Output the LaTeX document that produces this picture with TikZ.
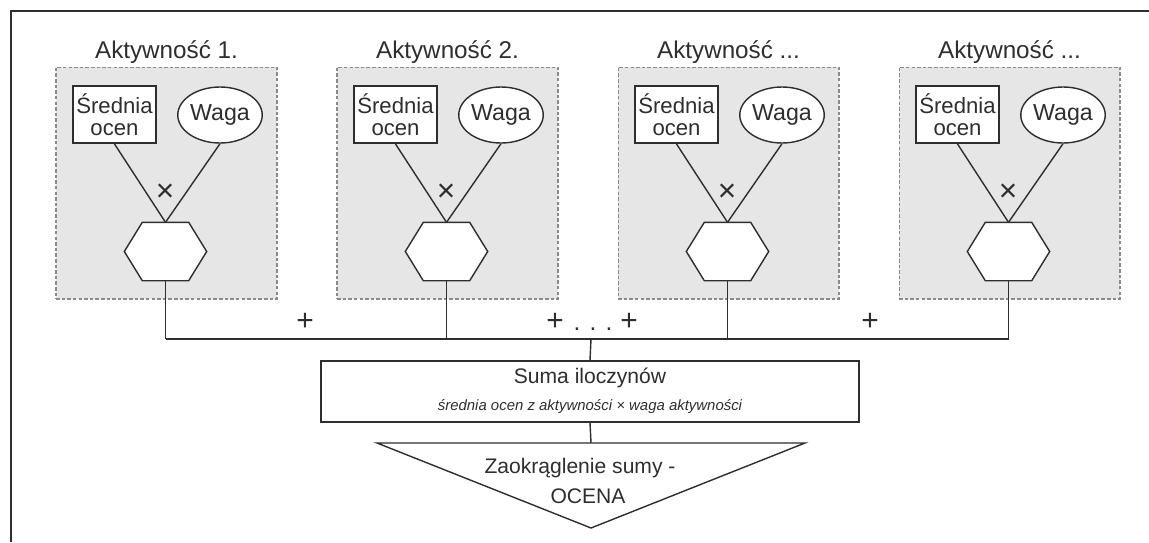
\documentclass[tikz,border=0pt]{standalone}
\usepackage{fontspec}
\setmainfont{Liberation Sans}
\usetikzlibrary{calc,shapes.geometric}
\definecolor{ink}{HTML}{2E2E2E}
\definecolor{panel}{HTML}{E6E6E6}
\definecolor{dashc}{HTML}{8A8A8A}
\newcommand{\tdots}{...}
\begin{document}
\begin{tikzpicture}[x=0.02cm,y=-0.02cm,line width=0.8pt,draw=ink,text=ink,
  panelbox/.style={draw=dashc,fill=panel,dash pattern=on 2pt off 1.2pt,line width=0.6pt,
    minimum width=4.42cm,minimum height=4.64cm,inner sep=0pt},
  titletext/.style={font=\fontsize{13.8}{16}\selectfont},
  srbox/.style={draw=ink,fill=white,line width=1.1pt,minimum width=1.66cm,minimum height=1.14cm,
    inner sep=0pt,align=center,font=\fontsize{12.6}{12.5}\selectfont},
  wagabox/.style={draw=ink,fill=white,ellipse,minimum width=1.68cm,minimum height=1.12cm,
    inner sep=0pt,font=\fontsize{13.2}{14}\selectfont},
  hexbox/.style={minimum width=1.62cm,minimum height=1.14cm,inner sep=0pt},
  timestext/.style={font=\fontsize{18}{20}\selectfont},
  plustext/.style={font=\fontsize{17}{19}\selectfont,inner sep=0pt},
  dotstext/.style={font=\fontsize{14}{16}\selectfont,inner sep=0pt},
  sumabox/.style={draw=ink,fill=white,minimum width=10.76cm,minimum height=1.22cm,inner sep=0pt},
  mainlabel/.style={font=\fontsize{12}{14}\selectfont,inner sep=0pt},
  smalllabel/.style={font=\itshape\fontsize{8.5}{10}\selectfont,inner sep=0pt}
]
\useasboundingbox (0,0) rectangle (1149,542);
% outer frame (top and left edges)
\draw[line width=0.9pt] (1149,11) -- (11,11) -- (11,542);

\foreach \i/\cx/\t in {1/166.5/1.,2/447.5/2.,3/728.5/\tdots,4/1009.5/\tdots}{
  \node[panelbox] (p\i) at (\cx,183) {};
  \node[titletext] (t\i) at (\cx,52) {Aktywność \t};
  \node[srbox] (s\i) at ($(\cx,114.5)+(-52,0)$) {Średnia\\ocen};
  \node[wagabox] (w\i) at ($(\cx,115)+(53.5,0)$) {Waga};
  \node[hexbox] (h\i) at ($(\cx,251.5)+(-1,0)$) {};
  \draw[fill=white] (h\i.west) -- ($(h\i.north west)+(18,0)$) -- ($(h\i.north east)+(-18,0)$)
     -- (h\i.east) -- ($(h\i.south east)+(-18,0)$) -- ($(h\i.south west)+(18,0)$) -- cycle;
  \draw (s\i.south) -- (h\i.north);
  \draw (w\i.south) -- (h\i.north);
  \node[timestext] (x\i) at ($(\cx,193)+(-1.5,0)$) {×};
  \coordinate (j\i) at ($(\cx,339)+(-1,0)$);
  \draw (h\i.south) -- (j\i);
}
\draw (j1) -- (j4);

\node[plustext] (plusa) at (305,322) {+};
\node[plustext] (plusb) at (555,322) {+};
\node[dotstext,anchor=base] (dots) at (593,330) {. . .};
\node[plustext] (plusc) at (629,322) {+};
\node[plustext] (plusd) at (870,322) {+};

\coordinate (jc) at (591,339);
\node[sumabox] (suma) at (590,391.5) {};
\draw (jc) -- (suma.north);
\node[mainlabel] (sumat) at (590,378) {Suma iloczynów};
\node[smalllabel] (sumai) at (590,407) {średnia ocen z aktywności × waga aktywności};

\coordinate (tritop) at (591,443);
\draw (377,443) -- (805,443) -- (591,528) -- cycle;
\draw (suma.south) -- (tritop);
\node[mainlabel] (zaok) at (580,468) {Zaokrąglenie sumy -};
\node[mainlabel] (ocena) at (588,496) {OCENA};
\end{tikzpicture}
\end{document}
